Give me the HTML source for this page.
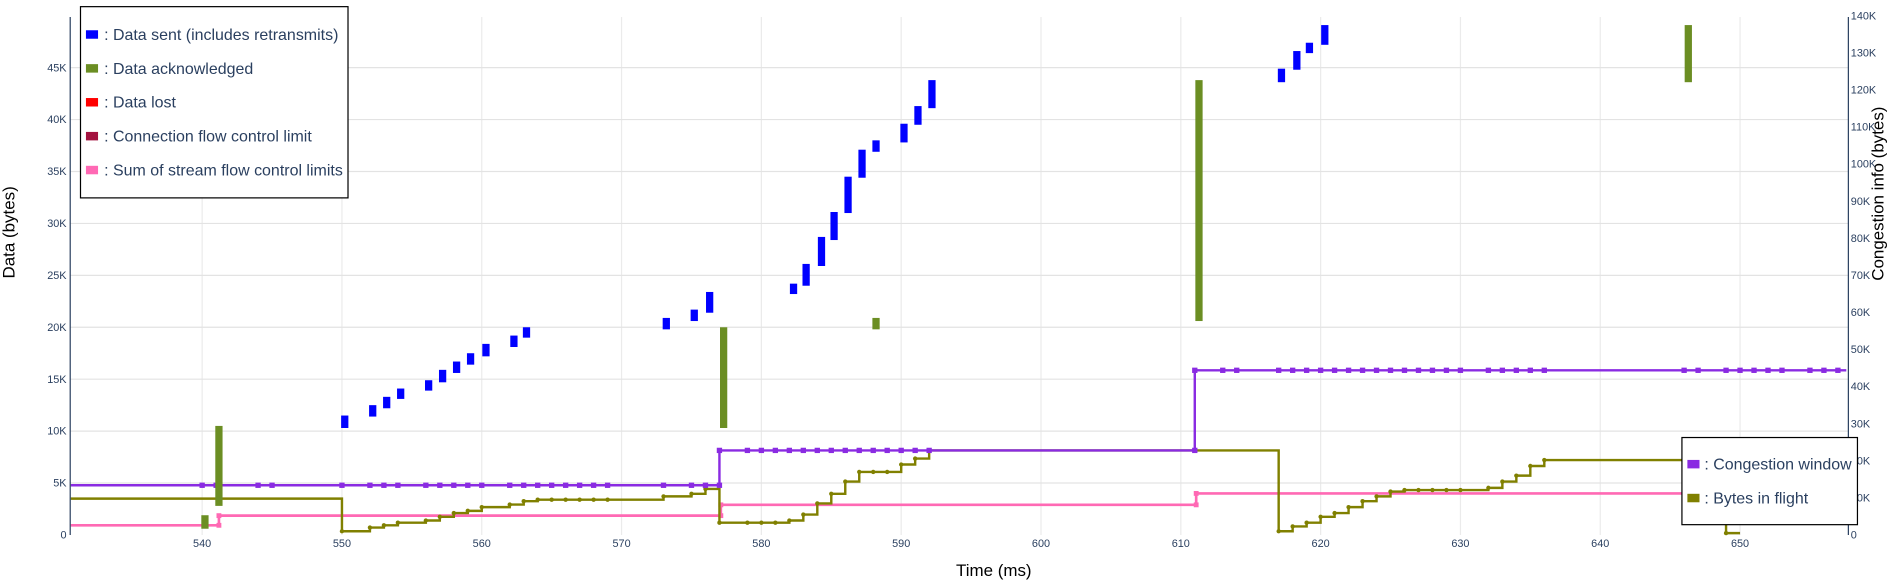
<!DOCTYPE html>
<html><head><meta charset="utf-8">
<style>
html,body{margin:0;padding:0;background:#fff;}
svg{display:block;font-family:"Liberation Sans",sans-serif;}
</style></head>
<body>
<svg id="chart" width="1898" height="587" viewBox="0 0 1568 485" preserveAspectRatio="none" xmlns="http://www.w3.org/2000/svg">
<g id="grid"></g>
<g id="marks"></g>
<g id="axes"></g>
<text x="821" y="476" font-size="14" text-anchor="middle" fill="#000">Time (ms)</text>
<text transform="translate(12,192) rotate(-90)" font-size="14" text-anchor="middle" fill="#000">Data (bytes)</text>
<text transform="translate(1556,160) rotate(-90)" font-size="14" text-anchor="middle" fill="#000">Congestion info (bytes)</text>
<g>
<rect x="66.5" y="5.5" width="221" height="158" fill="#fff" stroke="#000" stroke-width="1"/>
<g><rect x="71" y="25" width="10" height="7" fill="#0000ff"/><text x="86" y="33" font-size="13.2" fill="#2a3f5f">: Data sent (includes retransmits)</text></g>
<g><rect x="71" y="53" width="10" height="7" fill="#6b8e23"/><text x="86" y="61" font-size="13.2" fill="#2a3f5f">: Data acknowledged</text></g>
<g><rect x="71" y="81" width="10" height="7" fill="#ff0000"/><text x="86" y="89" font-size="13.2" fill="#2a3f5f">: Data lost</text></g>
<g><rect x="71" y="109" width="10" height="7" fill="#a3123f"/><text x="86" y="117" font-size="13.2" fill="#2a3f5f">: Connection flow control limit</text></g>
<g><rect x="71" y="137" width="10" height="7" fill="#ff69b4"/><text x="86" y="145" font-size="13.2" fill="#2a3f5f">: Sum of stream flow control limits</text></g>
</g>
<g>
<rect x="1389.5" y="361.5" width="145" height="72" fill="#fff" stroke="#000" stroke-width="1"/>
<g><rect x="1394" y="380" width="10" height="7" fill="#8a2be2"/><text x="1408" y="388" font-size="13.2" fill="#2a3f5f">: Congestion window</text></g>
<g><rect x="1394" y="408" width="10" height="7" fill="#808000"/><text x="1408" y="416" font-size="13.2" fill="#2a3f5f">: Bytes in flight</text></g>
</g>
</svg>
<script>
// ---- data (values in K bytes, time in ms) ----
const xTicks = [540,550,560,570,580,590,600,610,620,630,640,650];
const leftTicks = [0,5,10,15,20,25,30,35,40,45];
const rightTicks = [0,10,20,30,40,50,60,70,80,90,100,110,120,130,140];
const sentTimes = [550.2,552.2,553.2,554.2,556.2,557.2,558.2,559.2,560.3,562.3,563.2,573.2,575.2,576.3,582.3,583.2,584.3,585.2,586.2,587.2,588.2,590.2,591.2,592.2,617.2,618.3,619.2,620.3];
const sentLo = [10.3,11.4,12.2,13.1,13.9,14.7,15.6,16.4,17.2,18.1,19.0,19.8,20.6,21.4,23.2,24.0,25.9,28.4,31.0,34.4,36.9,37.8,39.5,41.1,43.6,44.8,46.4,47.2];
const sentHi = [11.5,12.5,13.3,14.1,14.9,15.9,16.7,17.5,18.4,19.2,20.0,20.9,21.7,23.4,24.2,26.1,28.7,31.1,34.5,37.1,38.0,39.6,41.3,43.8,44.9,46.6,47.4,49.1];
const ackTimes = [540.2,541.2,577.3,588.2,611.3,646.3];
const ackLo = [0.6,2.8,10.3,19.8,20.6,43.6];
const ackHi = [1.9,10.5,20.0,20.9,43.8,49.1];
const cwndTimes = [530.6,577.0,611.0];
const cwndValues = [13.4,22.8,44.4];
const cwndMarkerTimes = [540,541,544,545,550,552,553,554,556,557,558,559,560,562,563,564,565,566,567,568,569,573,575,576,577,577,579,580,581,582,583,584,585,586,587,588,589,590,591,592,611,611,613,614,617,618,619,620,621,622,623,624,625,626,627,628,629,630,632,633,634,635,636,646,647,649,650,651,652,653,655,656,657];
const bifTimes = [530.6,550,552,553,554,556,557,558,559,560,562,563,564,573,575,576,577,582,583,584,585,586,587,590,591,592,617,618,619,620,621,622,623,624,625,626,632,633,634,635,636,649];
const bifValues = [9.8,1.0,2.0,2.6,3.3,3.9,4.9,5.9,6.5,7.5,8.2,9.1,9.5,10.4,11.1,12.4,3.3,3.9,5.5,8.5,11.1,14.4,17.0,19.0,20.6,22.8,1.0,2.3,3.3,4.9,5.9,7.5,9.1,10.4,11.7,12.1,12.7,14.4,16.0,18.6,20.2,0.5];
const bifFlatMarkers = [565,566,567,568,569,579,580,581,588,589,627,628,629,630];
const flowTimes = [530.6,541.2,577.1,611.1];
const flowValues = [0.93,1.86,2.9,4.0];

// ---- scales ----
const T1 = 657.6, X0 = 58, X1 = 1527;
const x = t => 167 + (t - 540) * 11.55;
const yL = v => 442 - v * 8.58;
const yR = v => 442 - v * 3.064;
const NS = 'http://www.w3.org/2000/svg';
function mk(tag, attrs, parent){ const e=document.createElementNS(NS,tag); for(const k in attrs) e.setAttribute(k,attrs[k]); parent.appendChild(e); return e; }
const grid = document.getElementById('grid'), marks = document.getElementById('marks'), axes = document.getElementById('axes');

xTicks.forEach(t => {
  const l = mk('line',{x1:x(t),x2:x(t),y1:14,y2:442,stroke:'#ebebeb','stroke-width':1},grid);
  
  
  const tx = mk('text',{x:x(t),y:452,'font-size':9,'text-anchor':'middle',fill:'#2a3f5f'},axes);
  tx.textContent = t;
  
  
});
leftTicks.forEach(v => {
  if (v>0){ const l = mk('line',{x1:X0,x2:X1,y1:yL(v),y2:yL(v),stroke:'#e3e3e3','stroke-width':1},grid);
  
   }
  const tx = mk('text',{x:55,y:yL(v)+3,'font-size':9,'text-anchor':'end',fill:'#2a3f5f'},axes);
  tx.textContent = v===0?'0':v+'K';
  
  
});
rightTicks.forEach(v => {
  const tx = mk('text',{x:1529,y:yR(v)+3,'font-size':9,'text-anchor':'start',fill:'#2a3f5f'},axes);
  tx.textContent = v===0?'0':v+'K';
  
  
});
const la = mk('line',{x1:X0,x2:X0,y1:14,y2:442,stroke:'#2a3f5f','stroke-width':1},axes);


const ra = mk('line',{x1:X1,x2:X1,y1:14,y2:442,stroke:'#2a3f5f','stroke-width':1},axes);



function stepPath(ts, vs, ys, end){
  let d = 'M'+x(ts[0])+','+ys(vs[0]);
  for(let i=1;i<ts.length;i++){ d += ' H'+x(ts[i])+' V'+ys(vs[i]); }
  d += ' H'+x(end);
  return d;
}
// flow control (pink)
const fp = mk('path',{d:stepPath(flowTimes,flowValues,yL,T1),fill:'none',stroke:'#ff69b4','stroke-width':2.2},marks);


flowTimes.forEach((t,i)=>{ if(i===0) return;
  [flowValues[i-1],flowValues[i]].forEach(v=>{ const m=mk('rect',{x:x(t)-2,y:yL(v)-2,width:4,height:4,fill:'#ff69b4'},marks);
  
   });
});
// bytes in flight
const bp = mk('path',{d:stepPath(bifTimes,bifValues,yR,650),fill:'none',stroke:'#808000','stroke-width':2},marks);


function bifAt(t){ let v=bifValues[0]; for(let i=0;i<bifTimes.length;i++){ if(bifTimes[i]<=t) v=bifValues[i]; } return v; }
bifTimes.forEach((t,i)=>{ if(i===0) return;
  const m=mk('circle',{cx:x(t),cy:yR(bifValues[i]),r:1.8,fill:'#808000'},marks);
  
  
});
bifFlatMarkers.forEach(t=>{
  const m=mk('circle',{cx:x(t),cy:yR(bifAt(t)),r:1.8,fill:'#808000'},marks);
  
  
});
// congestion window
const cp = mk('path',{d:stepPath(cwndTimes,cwndValues,yR,T1),fill:'none',stroke:'#8a2be2','stroke-width':2},marks);


function cwndAt(t, prev){ let v=cwndValues[0]; for(let i=0;i<cwndTimes.length;i++){ if(cwndTimes[i]<t || (!prev && cwndTimes[i]<=t)) v=cwndValues[i]; } return v; }
const seen = {};
cwndMarkerTimes.forEach(t=>{
  const prev = !seen[t]; seen[t]=true;
  const m=mk('rect',{x:x(t)-2.2,y:yR(cwndAt(t,prev))-2.2,width:4.4,height:4.4,fill:'#8a2be2'},marks);
  
  
});
// data acknowledged
ackTimes.forEach((t,i)=>{
  const r=mk('rect',{x:x(t)-3,y:yL(ackHi[i]),width:6,height:yL(ackLo[i])-yL(ackHi[i]),fill:'#6b8e23'},marks);
  
  
});
// data sent
sentTimes.forEach((t,i)=>{
  const r=mk('rect',{x:x(t)-3,y:yL(sentHi[i]),width:6,height:yL(sentLo[i])-yL(sentHi[i]),fill:'#0000ff'},marks);
  
  
});
</script>
</body></html>
